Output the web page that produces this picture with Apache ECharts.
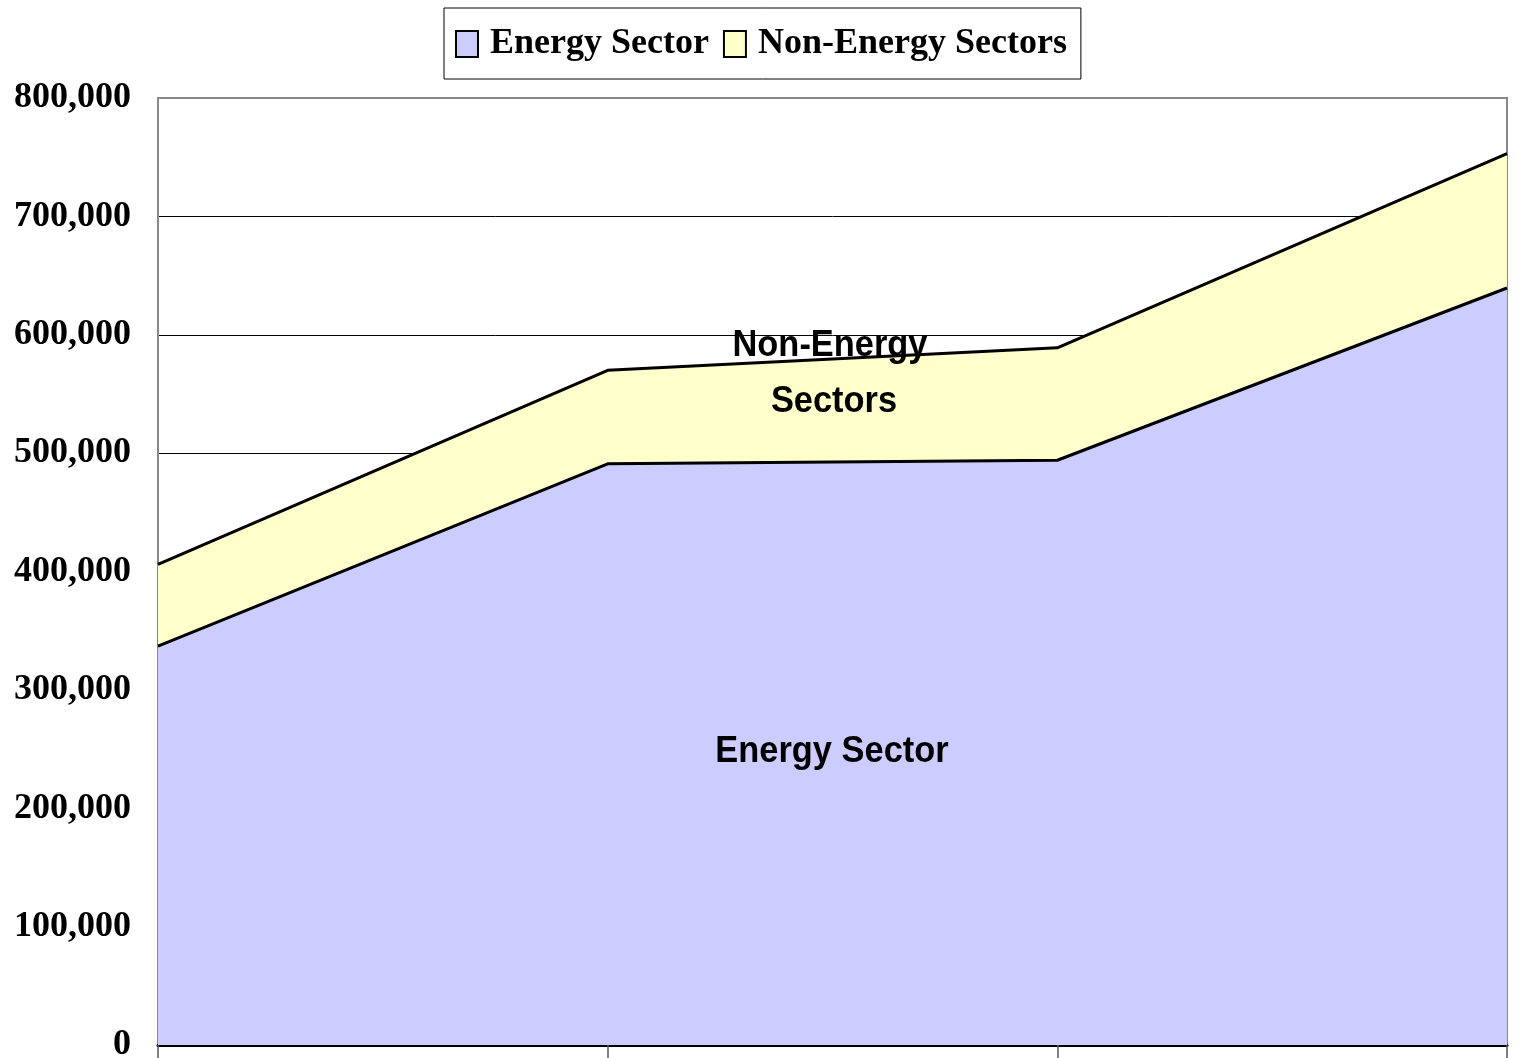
<!DOCTYPE html>
<html>
<head>
<meta charset="utf-8">
<title>Energy vs Non-Energy Sectors</title>
<script src="https://cdn.jsdelivr.net/npm/echarts@6/dist/echarts.min.js"></script>
<style>
html,body{margin:0;padding:0;background:#fff;}
#area{width:1533px;height:1058px;}
</style>
</head>
<body>
<div id="area"></div>
<script>
// categories on x axis (labels fall below the picture edge)
var years = ['1990', '2000', '2010', '2020'];
var energy = [337000, 491000, 494000, 639500];
var nonEnergy = [69000, 79000, 95000, 113500];
var seriesNames = ['Energy Sector', 'Non-Energy Sectors'];
var yTicks = [0, 100000, 200000, 300000, 400000, 500000, 600000, 700000, 800000];

function fmt(v){
	return String(v).replace(/\B(?=(\d{3})+(?!\d))/g, ',');
};

function areaChart(){
	var chart = echarts.init(document.getElementById('area'));
	// gridlines black, top one gray like the plot frame
	var gridColors = [];
	for(var i=0;i<yTicks.length;i++){
		gridColors.push(i == yTicks.length-1 ? '#888' : '#000');
	}
	var option = {
		animation: false,
		legend: {
			top: 8,
			left: 444,
			padding: [18, 14, 17, 11],
			borderColor: '#000',
			borderWidth: 1,
			itemGap: 14,
			itemWidth: 22,
			itemHeight: 26,
			icon: 'rect',
			itemStyle: {borderColor: '#000', borderWidth: 2},
			textStyle: {
				fontFamily: 'Liberation Serif',
				fontWeight: 'bold',
				fontSize: 36,
				color: '#000',
				padding: [0, 0, 0, 7]
			},
			data: seriesNames
		},
		grid: {left: 158, right: 26, top: 98, bottom: 13, outerBoundsMode: 'none',
			show: true, borderColor: '#888', borderWidth: 2},
		xAxis: {
			type: 'category',
			boundaryGap: false,
			data: years,
			axisLine: {lineStyle: {color: '#000', width: 3}},
			axisTick: {show: true, length: 14, lineStyle: {color: '#555', width: 1.5}},
			axisLabel: {show: false},
			splitLine: {show: false}
		},
		yAxis: {
			type: 'value',
			min: yTicks[0],
			max: yTicks[yTicks.length - 1],
			interval: yTicks[1] - yTicks[0],
			axisLine: {show: true, lineStyle: {color: '#888', width: 2}},
			axisTick: {show: false},
			axisLabel: {
				margin: 27,
				formatter: function(v){ return fmt(v); },
				fontFamily: 'Liberation Serif',
				fontWeight: 'bold',
				fontSize: 36,
				color: '#000'
			},
			splitLine: {lineStyle: {color: gridColors, width: 1}}
		},
		series: [
			{
				name: seriesNames[0],
				type: 'line',
				stack: 'total',
				symbol: 'none',
				data: energy,
				itemStyle: {color: '#CCCCFF'},
				lineStyle: {color: '#000', width: 3},
				areaStyle: {color: '#CCCCFF', opacity: 1}
			},
			{
				name: seriesNames[1],
				type: 'line',
				stack: 'total',
				symbol: 'none',
				data: nonEnergy,
				itemStyle: {color: '#FFFFCC'},
				lineStyle: {color: '#000', width: 3},
				areaStyle: {color: '#FFFFCC', opacity: 1}
			}
		],
		graphic: [
			{type: 'text', x: 830, y: 346, scaleX: 0.93, z: 100,
				style: {text: 'Non-Energy', x: 0, y: 0, align: 'center', verticalAlign: 'middle',
					font: 'bold 37px "Liberation Sans"', fill: '#000'}},
			{type: 'text', x: 834, y: 402, scaleX: 0.93, z: 100,
				style: {text: 'Sectors', x: 0, y: 0, align: 'center', verticalAlign: 'middle',
					font: 'bold 37px "Liberation Sans"', fill: '#000'}},
			{type: 'text', x: 832, y: 752, scaleX: 0.93, z: 100,
				style: {text: 'Energy Sector', x: 0, y: 0, align: 'center', verticalAlign: 'middle',
					font: 'bold 37px "Liberation Sans"', fill: '#000'}}
		]
	};
	chart.setOption(option);
};
areaChart();
</script>
</body>
</html>
